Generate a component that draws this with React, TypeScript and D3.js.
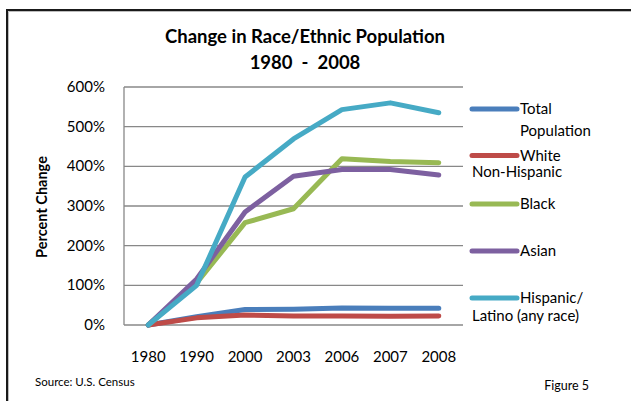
import React from "react";
import * as d3 from "d3";

// Categories and series (percent change since 1980)
const years = ["1980", "1990", "2000", "2003", "2006", "2007", "2008"];
const totalPopulation = [0, 21, 39, 40, 43, 42, 42];
const whiteNonHispanic = [0, 18, 25, 23, 23, 22, 23];
const black = [0, 106, 258, 293, 419, 412, 409];
const asian = [0, 116, 285, 375, 392, 392, 378];
const hispanicLatino = [0, 100, 373, 469, 543, 560, 535];
const yTicks = [0, 100, 200, 300, 400, 500, 600];

const series = [
  { key: "total", values: totalPopulation, color: "#4a7ebb", label: ["Total", "Population"], indent: [false, false], gap: 22 },
  { key: "white", values: whiteNonHispanic, color: "#be4b48", label: ["White", "Non-Hispanic"], indent: [false, true], gap: 16.5 },
  { key: "black", values: black, color: "#98b954", label: ["Black"], indent: [false], gap: 0 },
  { key: "asian", values: asian, color: "#7d60a0", label: ["Asian"], indent: [false], gap: 0 },
  { key: "hispanic", values: hispanicLatino, color: "#46aac5", label: ["Hispanic/", "Latino (any race)"], indent: [false, true], gap: 18 },
];

const W = 631;
const H = 401;
const plot = { left: 124, right: 463, top: 87, bottom: 325 };
const font = "Lato, 'Open Sans', sans-serif";

export default function App() {
  const x = d3
    .scaleBand<string>()
    .domain(years)
    .range([plot.left, plot.right]);
  const cx = (yr: string) => (x(yr) as number) + x.bandwidth() / 2;
  const y = d3.scaleLinear().domain([0, 600]).range([plot.bottom, plot.top]);

  const line = d3
    .line<number>()
    .x((_, i) => cx(years[i]))
    .y((v) => y(v));

  const legendY = [109, 155.5, 204, 251, 298];
  const legendX0 = 472;
  const legendX1 = 517;

  return (
    <svg
      width={W}
      height={H}
      style={{ position: "absolute", left: 0, top: 0, background: "#fff" }}
      fontFamily={font}
    >
      {/* frame */}
      <path d={`M${W + 5},11.5 H8.5 V${H + 5}`} fill="none" stroke="#bdbdbd" strokeWidth={1} />
      <path d={`M${W + 5},10 H7 V${H + 5}`} fill="none" stroke="#1a1a1a" strokeWidth={2} />

      {/* title */}
      <text x={305} y={42.5} textAnchor="middle" fontWeight="bold" fontSize={18.5} fill="#000">
        Change in Race/Ethnic Population
      </text>
      <text x={305} y={69} textAnchor="middle" fontWeight="bold" fontSize={18.5} fill="#000" xmlSpace="preserve">
        1980  -  2008
      </text>

      {/* gridlines */}
      {yTicks.map((t) => (
        <line
          key={t}
          x1={plot.left}
          x2={plot.right}
          y1={y(t)}
          y2={y(t)}
          stroke="#888"
          strokeWidth={1.3}
        />
      ))}
      <line x1={plot.left} x2={plot.left} y1={plot.top} y2={plot.bottom} stroke="#888" strokeWidth={1.3} />

      {/* y tick labels */}
      {yTicks.map((t) => (
        <text key={t} x={105} y={y(t) + 5} textAnchor="end" fontSize={15} fill="#000">
          {t}%
        </text>
      ))}

      {/* x tick labels */}
      {years.map((yr) => (
        <text key={yr} x={cx(yr)} y={362} textAnchor="middle" fontSize={15} fill="#000">
          {yr}
        </text>
      ))}

      {/* y axis title */}
      <text
        transform={`translate(47,207) rotate(-90)`}
        textAnchor="middle"
        fontWeight="bold"
        fontSize={14.5}
        fill="#000"
      >
        Percent Change
      </text>

      {/* series lines */}
      {series.map((s) => (
        <path
          key={s.key}
          d={line(s.values) || ""}
          fill="none"
          stroke={s.color}
          strokeWidth={5}
          strokeLinejoin="round"
          strokeLinecap="round"
        />
      ))}

      {/* legend */}
      {series.map((s, i) => (
        <g key={s.key}>
          <line
            x1={legendX0}
            x2={legendX1}
            y1={legendY[i]}
            y2={legendY[i]}
            stroke={s.color}
            strokeWidth={5}
            strokeLinecap="round"
          />
          {s.label.map((l, j) => (
            <text
              key={l}
              x={s.indent[j] ? legendX0 : legendX1 + 3}
              y={legendY[i] + 5 + j * s.gap}
              fontSize={15}
              fill="#000"
            >
              {l}
            </text>
          ))}
        </g>
      ))}

      {/* notes */}
      <text x={35} y={386} fontSize={11.5} fill="#000">
        Source: U.S. Census
      </text>
      <text x={589} y={390} textAnchor="end" fontSize={12.5} fill="#000">
        Figure 5
      </text>
    </svg>
  );
}
